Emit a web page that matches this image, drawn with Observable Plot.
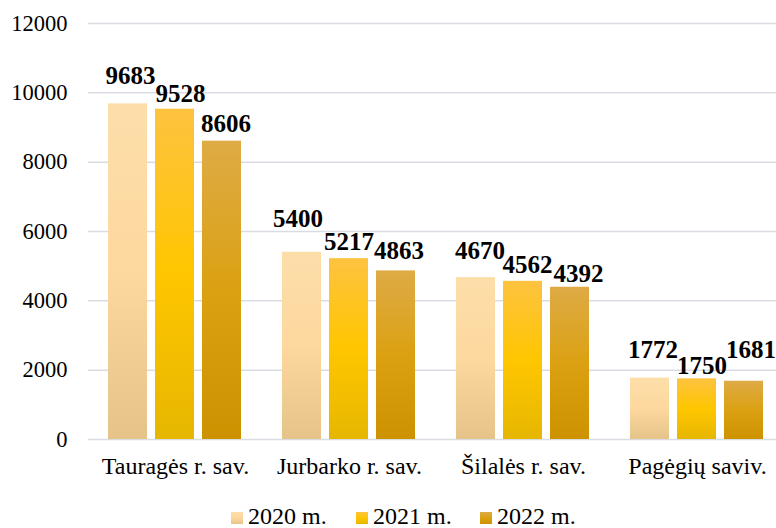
<!DOCTYPE html>
<html>
<head>
<meta charset="utf-8">
<script src="https://cdn.jsdelivr.net/npm/d3@7"></script>
<script src="https://cdn.jsdelivr.net/npm/@observablehq/plot@0.6"></script>
<style>
  html, body { margin: 0; padding: 0; background: #fff; overflow: hidden; width: 776px; height: 528px; }
  #wrap { position: relative; width: 776px; height: 528px; overflow: hidden; }
  #legend { position: absolute; left: 0; top: 0; width: 776px; height: 528px; pointer-events: none; font-family: "Liberation Serif", serif; font-size: 24px; color: #000; }
  .item { position: absolute; top: 503px; white-space: nowrap; line-height: 26px; }
  .sw { display: inline-block; width: 12px; height: 12px; margin-right: 5px; vertical-align: 0px; }
</style>
</head>
<body>
<div id="wrap"><div id="chart"></div><div id="legend"></div></div>
<script>
const categories = ["Tauragės r. sav.", "Jurbarko r. sav.", "Šilalės r. sav.", "Pagėgių saviv."];
const years = ["2020 m.", "2021 m.", "2022 m."];
const v2020 = [9683, 5400, 4670, 1772];
const v2021 = [9528, 5217, 4562, 1750];
const v2022 = [8606, 4863, 4392, 1681];
const yTicks = [0, 2000, 4000, 6000, 8000, 10000, 12000];

// label placement (pixels), per series per category, as in the reference
const labelLift = [[20, 25, 19, 20], [7.5, 9, 8, 5], [9, 12, 5, 23]];
const labelShift = [[2.5, -4, 4, 3], [5.5, 0, 4.5, 5], [4, 3, 8.5, 7]];

const gradients = {
  "2020 m.": ["#FDDEA9", "#FDD89F", "#E5C389"],
  "2021 m.": ["#FDC340", "#FFC600", "#E6B700"],
  "2022 m.": ["#DEAB46", "#DBA112", "#CC9200"]
};
const gid = {"2020 m.": "g2020", "2021 m.": "g2021", "2022 m.": "g2022"};
const legendX = [231, 356, 480];

const series = [v2020, v2021, v2022];
const data = categories.flatMap((c, i) => years.map((y, j) => ({cat: c, year: y, value: series[j][i], i, j})));

const marks = [
  Plot.gridY(yTicks, {stroke: "#D9DDE3", strokeOpacity: 1, strokeWidth: 1.5}),
  Plot.axisY(yTicks, {tickSize: 0, tickPadding: 21, tickFormat: d => String(d), fontSize: 22.5, label: null}),
  Plot.axisFx({anchor: "bottom", tickSize: 0, tickPadding: 17, fontSize: 24, label: null})
];
years.forEach(y => {
  const sub = data.filter(d => d.year === y);
  marks.push(Plot.barY(sub, {fx: "cat", x: "year", y: "value", fill: `url(#${gid[y]})`}));
});
data.forEach(d => {
  marks.push(Plot.text([d], {fx: "cat", x: "year", y: "value", text: e => String(e.value),
    lineAnchor: "bottom", dy: -labelLift[d.j][d.i], dx: labelShift[d.j][d.i],
    fontSize: 25, fontWeight: "bold", fill: "#000"}));
});

const svg = Plot.plot({
  width: 784,
  height: 500,
  marginLeft: 88,
  marginRight: 0,
  marginTop: 23,
  marginBottom: 61,
  style: {fontFamily: "Liberation Serif", fontSize: "22px", color: "#000", background: "transparent", maxWidth: "none", overflow: "visible"},
  fx: {domain: categories, padding: 0, label: null},
  x: {domain: years, paddingInner: 0.1667, paddingOuter: 0.396, axis: null},
  y: {domain: [0, 12000], label: null, axis: null},
  marks
});

let defs = `<defs>`;
years.forEach(y => {
  const c = gradients[y];
  defs += `<linearGradient id="${gid[y]}" x1="0" y1="0" x2="0" y2="1">
    <stop offset="0" stop-color="${c[0]}"/><stop offset="0.5" stop-color="${c[1]}"/><stop offset="1" stop-color="${c[2]}"/></linearGradient>`;
});
defs += `</defs>`;
svg.insertAdjacentHTML("afterbegin", defs);
svg.style.maxWidth = "none";
document.getElementById("chart").appendChild(svg);

const legend = document.getElementById("legend");
years.forEach((y, k) => {
  const c = gradients[y];
  const it = document.createElement("span");
  it.className = "item";
  it.style.left = legendX[k] + "px";
  it.innerHTML = `<span class="sw" style="background:linear-gradient(${c[0]},${c[1]},${c[2]})"></span>${y}`;
  legend.appendChild(it);
});
</script>
</body>
</html>
